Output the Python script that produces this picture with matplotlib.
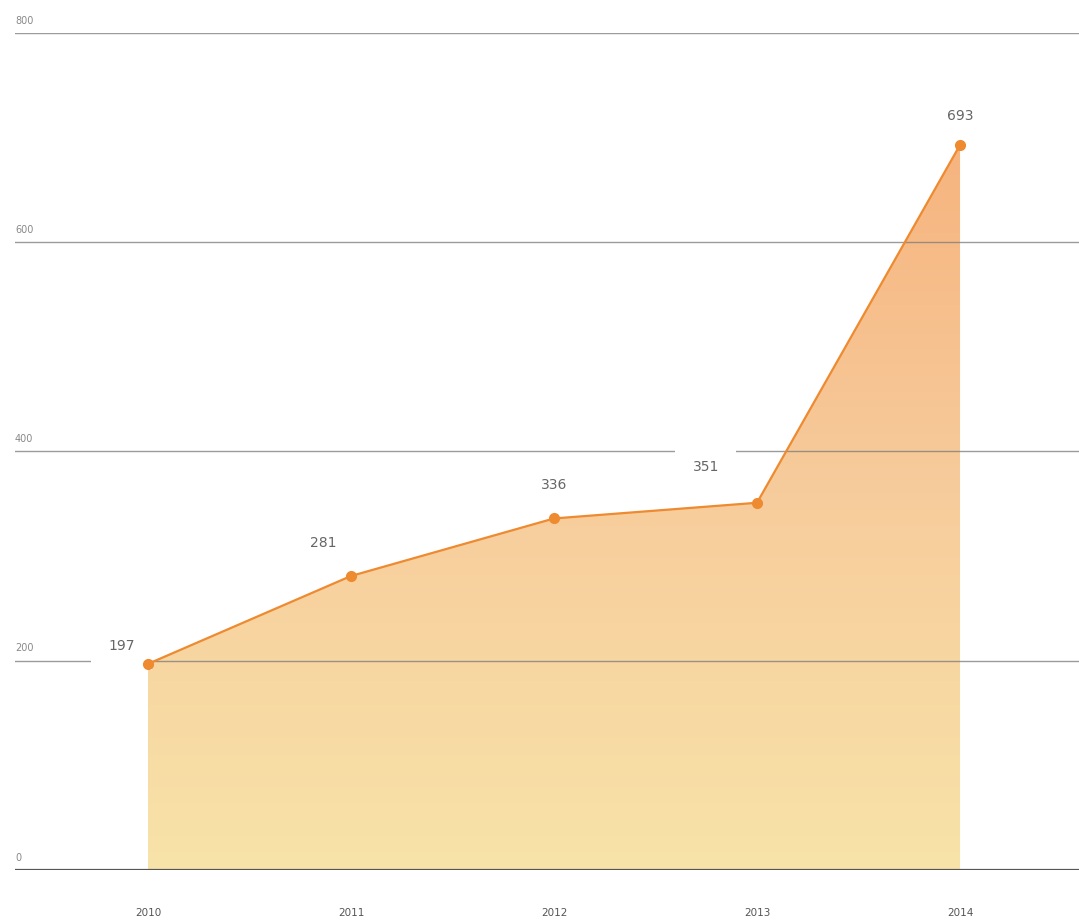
import numpy as np
import matplotlib
matplotlib.use("Agg")
import matplotlib.pyplot as plt
from matplotlib.colors import LinearSegmentedColormap
from matplotlib.patches import Polygon

# data
years = ["2010", "2011", "2012", "2013", "2014"]
values = [197, 281, 336, 351, 693]
y_ticks = [0, 200, 400, 600, 800]

fig = plt.figure(figsize=(10.79, 9.22), dpi=100)
ax = fig.add_axes([15 / 1079, 52 / 922, 1 - 15 / 1079, 837 / 922])

x = np.arange(len(years))
ax.set_xlim(-0.655, len(years) - 1 + 0.586)
ax.set_ylim(0, 800)

# gradient fill under the line
cmap = LinearSegmentedColormap.from_list(
    "fade", ["#F8E3A8", "#F7CC9C", "#F6B27C"])
grad = np.linspace(0, 1, 256).reshape(-1, 1)
img = ax.imshow(grad, cmap=cmap, origin="lower", aspect="auto",
                extent=[x[0], x[-1], 0, 720], zorder=1)
poly = Polygon(np.column_stack([np.r_[x[0], x, x[-1]], np.r_[0, values, 0]]),
               closed=True, facecolor="none", edgecolor="none")
ax.add_patch(poly)
img.set_clip_path(poly)

# grid lines
for t in y_ticks[1:]:
    ax.axhline(t, color="#7a7a7a", lw=1.0, alpha=0.75, zorder=2)
    ax.text(0.0, t + 7, str(t), transform=ax.get_yaxis_transform(),
            fontsize=7, color="#888888", ha="left", va="bottom", zorder=6)
ax.axhline(0, color="#555555", lw=1.6, zorder=4)
ax.text(0.0, 7, "0", transform=ax.get_yaxis_transform(),
        fontsize=7, color="#888888", ha="left", va="bottom", zorder=6)

# line and markers
ax.plot(x, values, color="#EE8A30", lw=1.6, zorder=5)
ax.plot(x, values, "o", color="#EE8A30", ms=7, zorder=6)

# value labels (offsets in points)
offsets = [(-19, 13), (-20, 24), (0, 24), (-37, 26), (0, 21)]
for xi, v, off in zip(x, values, offsets):
    ax.annotate(str(v), (xi, v), xytext=off, textcoords="offset points",
                ha="center", va="center", fontsize=10, color="#666666",
                zorder=3,
                bbox=dict(boxstyle="square,pad=1.25", fc="white", ec="none"))

# year labels
ax.set_xticks(x)
ax.set_xticklabels(years, fontsize=7.5, color="#555555")
ax.tick_params(axis="x", length=0, pad=27)
ax.set_yticks([])
for s in ax.spines.values():
    s.set_visible(False)

fig.savefig("out.png", dpi=100)
